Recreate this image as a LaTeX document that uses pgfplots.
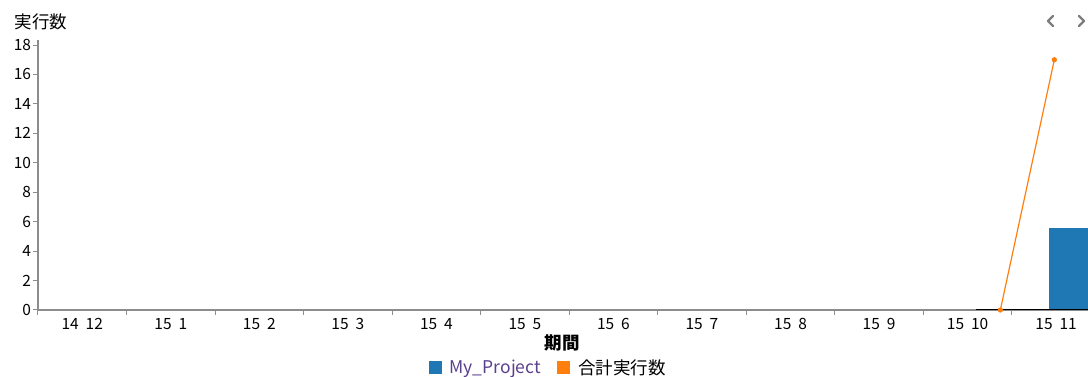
\documentclass[border=0pt]{standalone}
\usepackage{fontspec}
\setmainfont{Noto Sans CJK JP}
\usepackage{pgfplots}
\pgfplotsset{compat=1.18}
\definecolor{cblue}{HTML}{1F77B4}
\definecolor{corange}{HTML}{FF7F0E}
\definecolor{axgray}{HTML}{8C8C8C}
\definecolor{legpurple}{HTML}{5B3F8C}
\begin{document}
\begin{tikzpicture}[x=1pt,y=1pt]
\useasboundingbox (0,0) rectangle (1088,377);
\clip (0,0) rectangle (1088,377);
\begin{axis}[
  at={(38pt,67pt)}, anchor=south west,
  scale only axis, width=1050pt, height=270pt,
  xmin=-0.5, xmax=11.36, ymin=0, ymax=18.34,
  axis lines*=left,
  axis line style={axgray, line width=1.2pt},
  ytick={0,2,...,18},
  xtick={-0.5,0.5,...,10.5},
  xticklabels={},
  extra x ticks={0,...,11},
  extra x tick labels={14\ \ 12,15\ \ 1,15\ \ 2,15\ \ 3,15\ \ 4,15\ \ 5,15\ \ 6,15\ \ 7,15\ \ 8,15\ \ 9,15\ \ 10,15\ \ 11},
  extra x tick style={major tick length=0pt, xticklabel style={yshift=-5pt}},
  tick align=outside,
  major tick length=5pt,
  xtick style={axgray, line width=1pt},
  ytick style={axgray, line width=1pt},
  tick label style={font=\fontsize{15.5}{15.5}\selectfont, text=black},
  /pgf/number format/assume math mode=true,
  yticklabel style={xshift=1.5pt},
  xlabel={\textbf{期間}},
  xlabel style={font=\fontsize{17.5}{17.5}\selectfont, at={(axis description cs:0.4995,0)}, anchor=north, yshift=-21pt},
  legend columns=2,
  legend style={draw=none, fill=none, at={(0.486,-0.213)}, anchor=center,
    font=\fontsize{17.5}{17.5}\selectfont, inner sep=0pt,
    /tikz/every even column/.append style={column sep=14pt}},
  legend image code/.code={\fill[#1, draw=none] (0pt,-6.5pt) rectangle (13.5pt,7pt); \path (19pt,0pt);},
  clip=true,
]
\addplot[fill=cblue, draw=none, ybar, bar width=0.6] coordinates {(11.22,5.6)};
\addlegendentry{\textcolor{legpurple}{My\_Project}}
\addplot[corange, line width=1.2pt, mark=*, mark size=2pt, mark options={fill=corange, draw=corange}] coordinates {(10.37,0) (10.98,17)};
\addlegendentry{合計実行数}
\addplot[black, line width=1.2pt, forget plot] coordinates {(10.09,0) (11.36,0)};
\end{axis}
\node[anchor=west, font=\fontsize{17.5}{17.5}\selectfont] at (11,355) {実行数};
\draw[axgray!90!black, line width=2.2pt, line cap=round, line join=round] (1053,361) -- (1048,356) -- (1053,351);
\draw[axgray!90!black, line width=2.2pt, line cap=round, line join=round] (1079,361) -- (1084,356) -- (1079,351);
\end{tikzpicture}
\end{document}
